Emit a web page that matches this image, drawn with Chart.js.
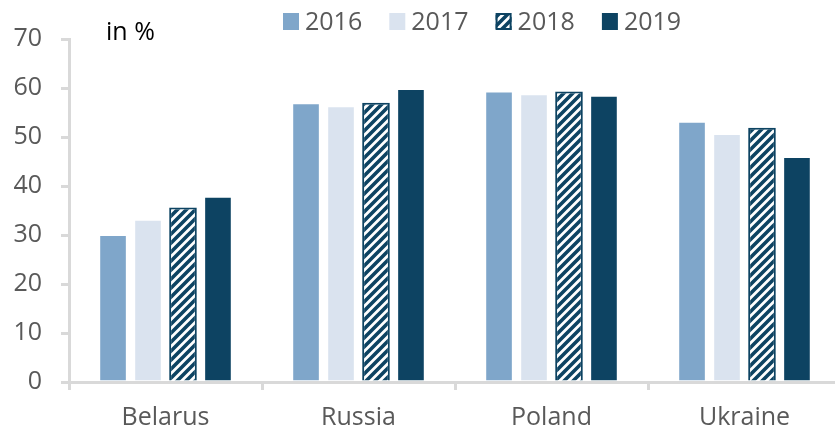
<!DOCTYPE html>
<html>
<head>
<meta charset="utf-8">
<script src="https://cdn.jsdelivr.net/npm/chart.js@4.4.0/dist/chart.umd.min.js"></script>
<style>
  html, body { margin: 0; padding: 0; overflow: hidden; background: #fff; }
  #wrap { width: 835px; height: 433px; overflow: hidden; }
</style>
</head>
<body>
<div id="wrap"><canvas id="chart" width="841" height="433"></canvas></div>
<script>
const categories = ['Belarus', 'Russia', 'Poland', 'Ukraine'];
const years = ['2016', '2017', '2018', '2019'];
const values2016 = [30.0, 56.9, 59.3, 53.1];
const values2017 = [33.1, 56.3, 58.7, 50.6];
const values2018 = [35.6, 57.0, 59.3, 51.9];
const values2019 = [37.8, 59.8, 58.4, 45.9];
const yMin = 0;
const yMax = 70;
const yStep = 10;
const unitLabel = 'in %';

const textColor = '#595959';
const axisColor = '#d9d9d9';
const dark = '#0d4362';
const fontFamily = "'Open Sans', sans-serif";

const canvas = document.getElementById('chart');
const ctx = canvas.getContext('2d');

// diagonal hatch used for 2018
function makeHatch(size) {
  const c = document.createElement('canvas');
  c.width = size;
  c.height = size;
  const g = c.getContext('2d');
  g.fillStyle = '#fff';
  g.fillRect(0, 0, size, size);
  g.strokeStyle = dark;
  g.lineWidth = 3.6;
  g.beginPath();
  g.moveTo(-1, size + 1); g.lineTo(size + 1, -1);
  g.moveTo(-size / 2 - 1, size / 2 + 1); g.lineTo(size / 2 + 1, -size / 2 - 1);
  g.moveTo(size / 2 - 1, size * 1.5 + 1); g.lineTo(size * 1.5 + 1, size / 2 - 1);
  g.stroke();
  return ctx.createPattern(c, 'repeat');
}

const hatch = makeHatch(9);
const fills = ['#7fa6ca', '#dae3ef', hatch, dark];
const seriesValues = [values2016, values2017, values2018, values2019];

const topLegend = {
  id: 'topLegend',
  afterDraw(chart) {
    const c = chart.ctx;
    c.save();
    c.font = '25px ' + fontFamily;
    c.textBaseline = 'alphabetic';
    years.forEach((y, i) => {
      const tx = 305 + i * 106.3;
      const bx = tx - 22;
      c.fillStyle = fills[i];
      c.fillRect(bx, 13, 16, 17);
      if (i === 2) {
        c.strokeStyle = dark;
        c.lineWidth = 2;
        c.strokeRect(bx + 1, 14, 14, 15);
      }
      c.fillStyle = textColor;
      c.fillText(y, tx, 30);
    });
    c.fillStyle = '#000';
    c.fillText(unitLabel, 106, 40);
    c.restore();
  }
};

new Chart(ctx, {
  type: 'bar',
  data: {
    labels: categories,
    datasets: years.map((y, i) => ({
      label: y,
      data: seriesValues[i],
      backgroundColor: fills[i],
      borderColor: i === 2 ? dark : 'rgba(255,255,255,0.6)',
      borderWidth: i === 2 ? 2 : 1,
      categoryPercentage: 0.725,
      barPercentage: 0.79
    }))
  },
  options: {
    responsive: false,
    devicePixelRatio: 1,
    animation: false,
    layout: { padding: { top: 39, left: 0, right: 0, bottom: 0 } },
    plugins: {
      legend: { display: false },
      tooltip: { enabled: false }
    },
    scales: {
      x: {
        grid: { drawOnChartArea: false, color: axisColor, lineWidth: 3, tickLength: 8, offset: true },
        border: { color: axisColor, width: 3 },
        ticks: { color: textColor, font: { family: fontFamily, size: 25 }, padding: 13 },
        afterFit: (s) => { s.height = 51; }
      },
      y: {
        min: yMin,
        max: yMax,
        ticks: { stepSize: yStep, color: textColor, font: { family: fontFamily, size: 25 }, padding: 19 },
        grid: { drawOnChartArea: false, color: axisColor, lineWidth: 3, tickLength: 8 },
        border: { color: axisColor, width: 3 },
        afterFit: (s) => { s.width = 69; }
      }
    }
  },
  plugins: [topLegend]
});
</script>
</body>
</html>
